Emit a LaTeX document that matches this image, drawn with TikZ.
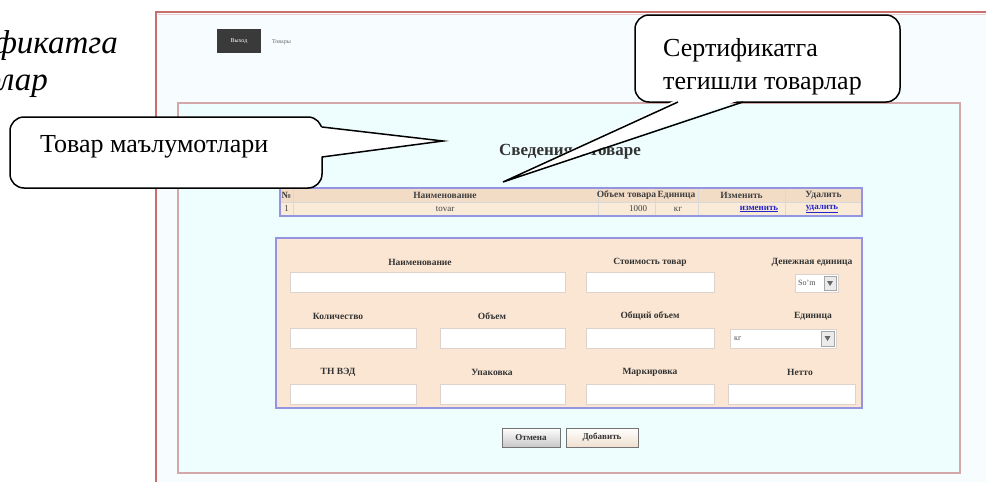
\documentclass[tikz,border=0pt]{standalone}
\usepackage{fontspec}
\setmainfont{Liberation Serif}
\usetikzlibrary{calc}
\definecolor{frameRed}{HTML}{C86E6E}
\definecolor{panelBorder}{HTML}{D4A8A8}
\definecolor{panelFill}{HTML}{EEFEFE}
\definecolor{peach}{HTML}{FAE6D2}
\definecolor{peachHead}{HTML}{F3DCC6}
\definecolor{peachRow}{HTML}{FAEBD9}
\definecolor{blueBorder}{HTML}{9494E0}
\definecolor{linkBlue}{HTML}{2323C8}
\definecolor{fieldBorder}{HTML}{DCD4CC}
\definecolor{darkBtn}{HTML}{3A3A3A}
\begin{document}
\begin{tikzpicture}[x=1pt,y=-1pt,
  callbox/.style={draw=black, line width=1.5pt, fill=white, rounded corners=14pt, inner sep=0pt},
  callline/.style={draw=black, line width=1.5pt, line join=miter},
  calltext/.style={font=\fontsize{26}{33}\selectfont, inner sep=0pt},
  captext/.style={font=\itshape\fontsize{33}{38}\selectfont, inner sep=0pt},
  lbl/.style={font=\fontsize{9.5}{11}\selectfont\bfseries, text=black!80, inner sep=0pt},
  thead/.style={font=\fontsize{9.5}{10}\selectfont\bfseries, text=black!75, inner sep=0pt},
  tcell/.style={font=\fontsize{9}{10}\selectfont, text=black!75, inner sep=0pt},
  tlink/.style={font=\fontsize{9}{10}\selectfont\bfseries, text=linkBlue, inner sep=0pt},
  field/.style={draw=fieldBorder, fill=white, line width=0.8pt},
  btn/.style={draw=black!55, line width=0.8pt, top color=white, bottom color=black!22, font=\fontsize{9}{10}\selectfont\bfseries, text=black!80, inner sep=0pt, minimum height=19pt}
]
\useasboundingbox (0,0) rectangle (986,482);

% ---------- caption fragment at the top left (clipped by the page) ----------
\begin{scope}
\clip (0,0) rectangle (150,120);
\node[captext, anchor=base east] (cap1) at (118,53) {Сертификатга};
\node[captext, anchor=base east] (cap2) at (48,90) {товарлар};
\end{scope}

% ---------- screenshot ----------
\fill[white!97!cyan] (156,12) rectangle (986,482);
\draw[frameRed!35, line width=1pt] (158,14.8) -- (986,14.8);
\draw[frameRed, line width=2.5pt] (156,482) -- (156,12) -- (986,12);

\node[fill=darkBtn, minimum width=44pt, minimum height=24pt, inner sep=0pt,
      font=\fontsize{6}{7}\selectfont, text=white!75] (exit) at (239,41) {Выход};
\node[anchor=west, font=\fontsize{6}{7}\selectfont, text=black!60, inner sep=0pt] (goods) at (272,42) {Товары};

\draw[panelBorder, fill=panelFill, line width=1.2pt] (178,103) rectangle (960,473);

\node[font=\fontsize{17}{19}\selectfont\bfseries, text=black!80, inner sep=0pt] (title) at (570,152) {Сведения о товаре};

% table
\fill[peachHead] (280,188) rectangle (862,202);
\fill[peachRow] (280,202) rectangle (862,216);
\foreach \x in {293,598,655,698,785} \draw[black!15, line width=0.6pt] (\x,189) -- (\x,215);
\draw[black!15, line width=0.6pt] (281,202) -- (861,202);
\draw[blueBorder, line width=1.5pt] (280,188) rectangle (862,216);
\node[thead] (h1) at (286.5,195) {№};
\node[thead] (h2) at (445,195) {Наименование};
\node[thead] (h3) at (626.5,195) {Объем товара};
\node[thead] (h4) at (676.5,195) {Единица};
\node[thead] (h5) at (741.5,195) {Изменить};
\node[thead] (h6) at (823.5,195) {Удалить};
\node[tcell] (d1) at (286.5,209) {1};
\node[tcell] (d2) at (445,209) {tovar};
\node[tcell] (d3) at (638,209) {1000};
\node[tcell] (d4) at (678,209) {кг};
\node[tlink] (d5) at (759,209) {\underline{изменить}};
\node[tlink] (d6) at (822,209) {\underline{удалить}};

% form
\draw[blueBorder, fill=peach, line width=1.5pt] (276,238) rectangle (862,408);
\node[lbl] (l1) at (420,262) {Наименование};
\node[lbl] (l2) at (650,262) {Стоимость товар};
\node[lbl] (l3) at (812,262) {Денежная единица};
\draw[field] (290,272) rectangle (565,292);
\draw[field] (586,272) rectangle (714,292);
\draw[field] (795,274) rectangle (838,292);
\node[font=\fontsize{8}{9}\selectfont, text=black!70, inner sep=0pt, anchor=west] (cur) at (798,283) {So'm};
\draw[black!35, fill=black!8] (824,276) rectangle (836,290);
\fill[black!60] (827,281) -- (833,281) -- (830,286) -- cycle;

\node[lbl] (l4) at (338,316) {Количество};
\node[lbl] (l5) at (492,316) {Объем};
\node[lbl] (l6) at (650,316) {Общий объем};
\node[lbl] (l7) at (813,316) {Единица};
\draw[field] (290,328) rectangle (416,348);
\draw[field] (440,328) rectangle (565,348);
\draw[field] (586,328) rectangle (714,348);
\draw[field] (730,329) rectangle (836,348);
\node[font=\fontsize{8}{9}\selectfont, text=black!70, inner sep=0pt, anchor=west] (unit) at (734,339) {кг};
\draw[black!35, fill=black!8] (821,331) rectangle (834,346);
\fill[black!60] (824.5,336) -- (830.5,336) -- (827.5,341) -- cycle;

\node[lbl] (l8) at (338,372) {ТН ВЭД};
\node[lbl] (l9) at (492,372) {Упаковка};
\node[lbl] (l10) at (650,372) {Маркировка};
\node[lbl] (l11) at (800,372) {Нетто};
\draw[field] (290,384) rectangle (416,404);
\draw[field] (440,384) rectangle (565,404);
\draw[field] (586,384) rectangle (714,404);
\draw[field] (728,384) rectangle (855,404);

\node[btn, minimum width=58pt] (cancel) at (531,437.5) {Отмена};
\node[btn, minimum width=72pt, bottom color=brown!25] (add) at (602,437.5) {Добавить};

% ---------- callout 1 ----------
\node[callbox, minimum width=312pt, minimum height=71pt] (c1) at (166,152.5) {};
\coordinate (t1) at (443,141);
\coordinate (p1a) at (322,127);
\coordinate (p1b) at (322,157);
\fill[white] ($(p1a)+(-3,0)$) -- (t1) -- ($(p1b)+(-3,0)$) -- cycle;
\draw[callline] (p1a) -- (t1) -- (p1b);
\node[calltext, anchor=base west] (c1t) at (40,152) {Товар маълумотлари};

% ---------- callout 2 ----------
\node[callbox, minimum width=265pt, minimum height=87pt] (c2) at (767.5,58.5) {};
\coordinate (t2) at (503,182);
\coordinate (p2a) at (678,102);
\coordinate (p2b) at (743,102);
\fill[white] ($(p2a)+(0,-3)$) -- (t2) -- ($(p2b)+(0,-3)$) -- cycle;
\draw[callline] (p2a) -- (t2) -- (p2b);
\node[calltext, anchor=base west] (c2t1) at (663,56) {Сертификатга};
\node[calltext, anchor=base west] (c2t2) at (663,89) {тегишли товарлар};
\end{tikzpicture}
\end{document}
